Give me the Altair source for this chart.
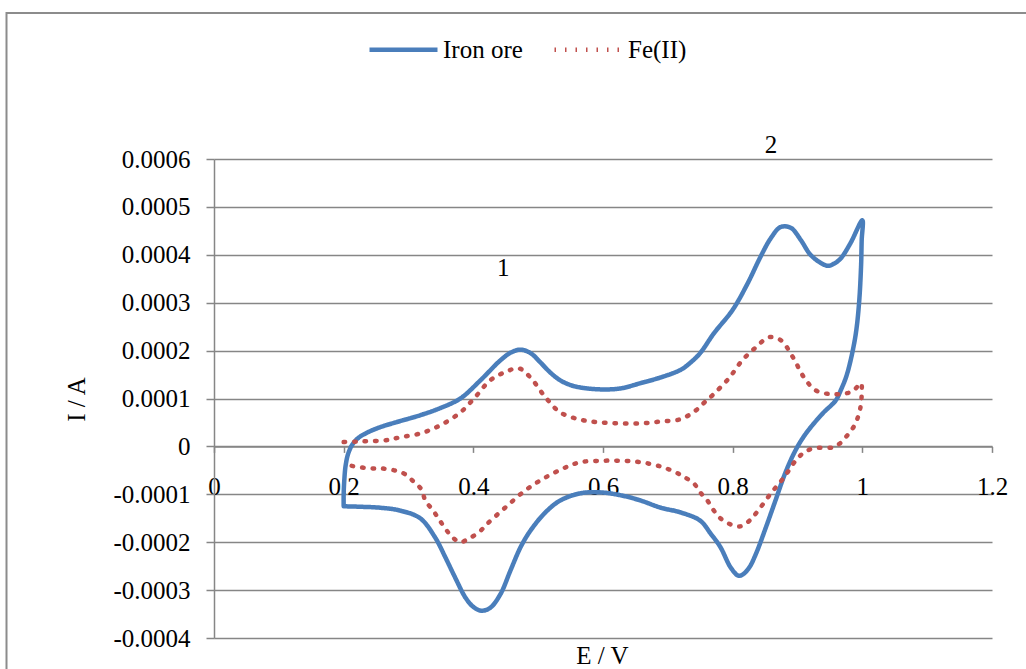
import altair as alt
import pandas as pd

# ---- Data ----
ore_E = [0.200, 0.200, 0.201, 0.203, 0.207, 0.213, 0.222, 0.235, 0.256, 0.280,
         0.318, 0.349, 0.380, 0.411, 0.442, 0.458, 0.473, 0.488, 0.503, 0.518,
         0.534, 0.550, 0.565, 0.596, 0.627, 0.658, 0.689, 0.720, 0.735, 0.750,
         0.771, 0.800, 0.823, 0.843, 0.859, 0.874, 0.890, 0.905, 0.920, 0.936,
         0.947, 0.957, 0.967, 0.982, 1.000,
         0.999, 0.998, 0.995, 0.990, 0.982, 0.975, 0.967, 0.959, 0.939, 0.913,
         0.897, 0.881, 0.866, 0.851, 0.836, 0.826, 0.816, 0.809, 0.797, 0.781,
         0.766, 0.750, 0.720, 0.689, 0.658, 0.627, 0.596, 0.565, 0.534, 0.511,
         0.488, 0.473, 0.457, 0.442, 0.426, 0.412, 0.400, 0.388, 0.372, 0.357,
         0.341, 0.318, 0.287, 0.256, 0.225, 0.200]
ore_I = [-0.000125, -0.000100, -0.000070, -0.000040, -0.000015, 0.000003, 0.000017, 0.000028, 0.000040, 0.000050,
         0.000065, 0.000080, 0.000100, 0.000138, 0.000180, 0.000196, 0.000202, 0.000195, 0.000176, 0.000155,
         0.000138, 0.000128, 0.000123, 0.000119, 0.000121, 0.000132, 0.000144, 0.000160, 0.000175, 0.000195,
         0.000236, 0.000285, 0.000340, 0.000396, 0.000435, 0.000458, 0.000456, 0.000431, 0.000400, 0.000383,
         0.000377, 0.000382, 0.000393, 0.000425, 0.000472,
         0.000430, 0.000375, 0.000300, 0.000236, 0.000180, 0.000145, 0.000118, 0.000096, 0.000069, 0.000027,
         -0.000008, -0.000056, -0.000113, -0.000170, -0.000224, -0.000252, -0.000267, -0.000270, -0.000253, -0.000210,
         -0.000182, -0.000155, -0.000138, -0.000128, -0.000113, -0.000102, -0.000096, -0.000098, -0.000113, -0.000138,
         -0.000176, -0.000210, -0.000260, -0.000308, -0.000337, -0.000343, -0.000335, -0.000316, -0.000274, -0.000232,
         -0.000190, -0.000150, -0.000134, -0.000128, -0.000126, -0.000125]

fe_E = [0.200, 0.220, 0.240, 0.266, 0.287, 0.318, 0.349, 0.380, 0.403, 0.426,
        0.449, 0.470, 0.488, 0.511, 0.534, 0.565, 0.596, 0.627, 0.658, 0.689,
        0.720, 0.743, 0.755, 0.769, 0.794, 0.815, 0.836, 0.856, 0.874, 0.893,
        0.910, 0.928, 0.951, 0.970, 0.985, 0.998,
        0.999, 0.998, 0.995, 0.988, 0.979, 0.967, 0.954, 0.924, 0.908, 0.897,
        0.879, 0.859, 0.837, 0.826, 0.812, 0.797, 0.781, 0.771, 0.761, 0.750,
        0.740, 0.724, 0.712, 0.689, 0.658, 0.627, 0.596, 0.565, 0.542, 0.511,
        0.480, 0.449, 0.422, 0.408, 0.392, 0.380, 0.368, 0.357, 0.346, 0.338,
        0.326, 0.320, 0.309, 0.292, 0.260, 0.244, 0.227, 0.210]
fe_I = [0.000009, 0.000010, 0.000011, 0.000013, 0.000019, 0.000027, 0.000044, 0.000071, 0.000103, 0.000138,
        0.000155, 0.000163, 0.000144, 0.000103, 0.000071, 0.000056, 0.000050, 0.000048, 0.000048, 0.000052,
        0.000057, 0.000075, 0.000090, 0.000107, 0.000142, 0.000180, 0.000207, 0.000228, 0.000222, 0.000186,
        0.000144, 0.000117, 0.000109, 0.000110, 0.000115, 0.000132,
        0.000113, 0.000090, 0.000069, 0.000044, 0.000027, 0.000008, -0.000002, -0.000004, -0.000015, -0.000030,
        -0.000065, -0.000098, -0.000138, -0.000155, -0.000167, -0.000163, -0.000150, -0.000134, -0.000113, -0.000096,
        -0.000077, -0.000063, -0.000054, -0.000042, -0.000033, -0.000030, -0.000030, -0.000033, -0.000044, -0.000065,
        -0.000092, -0.000128, -0.000161, -0.000180, -0.000193, -0.000200, -0.000190, -0.000172, -0.000150, -0.000134,
        -0.000113, -0.000090, -0.000075, -0.000056, -0.000046, -0.000046, -0.000044, -0.000040]

series_names = ["Iron ore", "Fe(II)"]
series_colors = ["#4a7ebb", "#c0504d"]

x_ticks = [0, 0.2, 0.4, 0.6, 0.8, 1.0, 1.2]
y_ticks = [-0.0004, -0.0003, -0.0002, -0.0001, 0, 0.0001, 0.0002, 0.0003, 0.0004, 0.0005, 0.0006]

note_text = ["1", "2"]
note_E = [0.446, 0.859]
note_I = [0.000372, 0.00063]

FONT = "Liberation Serif"
LFONT = "'Liberation Serif', 'Times New Roman', serif"
GRAY = "#868686"

rows = []
for i, (e, v) in enumerate(zip(ore_E, ore_I)):
    rows.append({"E": e, "I": v, "series": series_names[0], "idx": i})
for i, (e, v) in enumerate(zip(fe_E, fe_I)):
    rows.append({"E": e, "I": v, "series": series_names[1], "idx": i})
df = pd.DataFrame(rows)
notes = pd.DataFrame({"t": note_text, "E": note_E, "I": note_I})

xscale = alt.Scale(domain=[0, 1.2], nice=False, zero=False)
yscale = alt.Scale(domain=[-0.0004, 0.0006], nice=False, zero=False)

legend_opts = dict(title=None, orient="none", direction="horizontal",
                   legendX=153, legendY=-146, symbolType="stroke",
                   symbolSize=4624, symbolStrokeWidth=4.5,
                   labelFont=LFONT, labelFontSize=25, labelColor="black",
                   labelOffset=3, columnPadding=22)

lines = alt.Chart(df).mark_line(strokeWidth=4.5, strokeCap="round", strokeJoin="round",
                                interpolate="catmull-rom").encode(
    x=alt.X("E:Q", scale=xscale,
            axis=alt.Axis(values=x_ticks, grid=False, tickSize=6, labelPadding=22,
                          labelFlush=False, labelExpr="format(datum.value, '~g')",
                          offset=-191.6, title="E / V", titleX=388, titleY=217,
                          titleBaseline="alphabetic", titleAlign="center")),
    y=alt.Y("I:Q", scale=yscale,
            axis=alt.Axis(values=y_ticks, grid=True, tickSize=8, labelPadding=16,
                          labelFlush=False, labelBaseline="middle",
                          labelExpr="datum.value == 0 ? '0' : (datum.value < 0 ? '-' : '') + format(abs(datum.value), '.4f')",
                          title="I / A", titleX=-138, titleY=240, titleBaseline="middle",
                          titleAlign="center")),
    color=alt.Color("series:N", scale=alt.Scale(domain=series_names, range=series_colors),
                    legend=alt.Legend(**legend_opts)),
    strokeDash=alt.StrokeDash("series:N", scale=alt.Scale(domain=series_names, range=[[1, 0], [1.5, 9]]),
                              legend=alt.Legend(**legend_opts)),
    order="idx:Q",
)

text = alt.Chart(notes).mark_text(font=FONT, fontSize=25, color="black").encode(
    x=alt.X("E:Q", scale=xscale), y=alt.Y("I:Q", scale=yscale), text="t:N")

frame = alt.Chart(alt.Data(values=[{}])).mark_rect(fill="white", fillOpacity=0, stroke="#8c8c8c", strokeWidth=2).encode(
    x=alt.value(-207.5), x2=alt.value(830), y=alt.value(-146), y2=alt.value(530))

chart = alt.layer(frame, lines, text).properties(
    width=778, height=479,
    autosize=alt.AutoSizeParams(type="none"),
    padding={"left": 214, "top": 159, "right": 34, "bottom": 31},
    background="white",
).configure(
    font=FONT, style={"guide-label": {"font": FONT}},
).configure_view(stroke=None).configure_axis(
    labelFont=FONT, labelFontSize=25, labelColor="black",
    titleFont=FONT, titleFontSize=25, titleFontWeight="normal", titleColor="black",
    domainColor=GRAY, domainWidth=1.5, tickColor=GRAY, tickWidth=1.5,
    gridColor=GRAY, gridWidth=1.5, gridOpacity=1,
).configure_legend(
    labelFont=LFONT, labelFontSize=25, labelColor="black",
)

chart.save("out.html", embed_options={"renderer": "svg", "actions": False})
